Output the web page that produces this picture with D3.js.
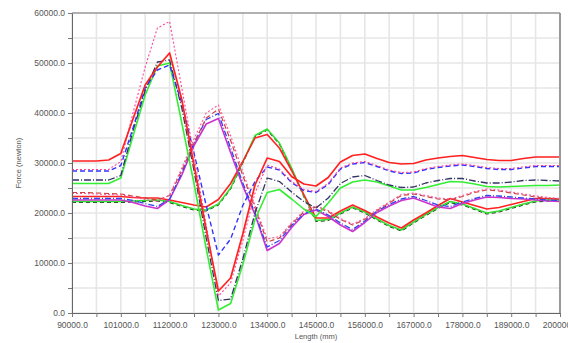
<!DOCTYPE html>
<html><head><meta charset="utf-8">
<script src="https://cdn.jsdelivr.net/npm/d3@7"></script>
<style>
body{margin:0;background:#fff}
svg{display:block}
text{font-family:"Liberation Sans",Arial,sans-serif}
</style>
</head><body>
<svg id="chart" width="568" height="343"></svg>
<script>
// ---- data ----
const lengthMm = [90000,92750,95500,98250,101000,103750,106500,109250,112000,114750,117500,120250,123000,125750,128500,131250,134000,136750,139500,142250,145000,147750,150500,153250,156000,158750,161500,164250,167000,169750,172500,175250,178000,180750,183500,186250,189000,191750,194500,197250,200000];

const xTickValues = [90000,101000,112000,123000,134000,145000,156000,167000,178000,189000,200000];
const xTickLabels = ["90000.0","101000.0","112000.0","123000.0","134000.0","145000.0","156000.0","167000.0","178000.0","189000.0","200000.0"];
const yTickValues = [0,10000,20000,30000,40000,50000,60000];
const yTickLabels = ["0.0","10000.0","20000.0","30000.0","40000.0","50000.0","60000.0"];

// group peaking at 112000
const redA   = [30400,30400,30400,30600,31900,38800,45600,49200,52000,42700,29600,16700,4400,7000,15800,25600,31000,30300,27300,25800,25400,27100,30200,31500,31800,30900,30100,29800,29900,30600,31000,31300,31500,31100,30700,30500,30500,30900,31200,31200,31200];
const pinkA  = [28700,28700,28700,28700,30300,40000,49200,57000,58300,45000,31500,17500,3400,6000,14500,24000,29600,28800,26300,24700,24300,25900,29000,30000,30300,29500,28600,28100,28200,28900,29300,29600,29800,29500,29100,28900,28900,29200,29500,29500,29500];
const blueA  = [28400,28400,28400,28400,29500,37000,45000,48600,49600,42000,32000,21500,11600,14800,21500,26300,29200,28600,26100,24500,24100,25700,28800,29800,30100,29300,28400,27900,28000,28700,29100,29400,29600,29300,28900,28700,28700,29000,29300,29300,29300];
const navyA  = [26600,26600,26600,26600,27500,36500,44500,50200,50600,41000,28500,15000,2500,2800,10800,20000,27000,26300,24200,22300,21000,23000,25900,27200,27500,26500,25600,25100,25200,26000,26500,26900,26900,26400,26000,26000,26200,26500,26600,26500,26400];
const greenA = [25900,25900,25900,25900,27000,35400,43600,49400,50000,38000,25900,12900,600,1900,9700,18700,24100,24700,22800,20800,19300,22000,25000,26200,26600,26200,25400,24600,24600,25100,25700,26300,26200,25800,25300,25200,25300,25400,25500,25500,25600];

// group peaking at 123000
const pinkB    = [23900,23900,23800,23700,23600,23200,22700,22300,23600,29000,34800,40000,41600,35500,28200,21500,14800,15300,18000,20400,21400,20500,18900,17800,18900,20700,22200,23700,24000,23500,23000,22800,23500,24300,24800,24600,24200,23800,23400,23100,22900];
const redDashB = [24100,24100,24000,23900,23800,23400,23000,22600,23500,28500,34000,39000,40800,34500,27500,21000,14200,15000,17800,20200,21200,20300,18700,17600,18700,20500,22000,23500,23800,23300,22800,22600,23300,24100,24600,24400,24000,23600,23200,22900,22700];
const blueB    = [22900,22900,22900,22900,22900,22500,21900,21300,22800,28000,34000,38700,39900,33000,26000,20000,13200,14500,17500,19800,20800,19600,18000,16700,18400,20400,21700,22800,23300,22500,21600,21300,22200,22900,23500,23400,23200,23000,22800,22600,22500];
const magentaB = [22600,22600,22600,22600,22600,22100,21400,20900,22700,27600,33500,37800,38900,32100,25400,19700,12500,13900,17100,19700,20600,19300,17600,16300,18100,20100,21400,22500,23000,22100,21200,20900,21900,22600,23200,23100,22900,22800,22600,22400,22300];

// group peaking at 134000
const redC   = [23300,23300,23300,23300,23300,23100,23000,23000,22600,22100,21600,21200,22700,25900,30300,35000,35700,33000,28500,23700,19000,19000,20400,21600,20500,19200,18000,17000,18600,20000,21500,22900,22200,21500,20800,21100,21700,22300,22900,22900,22800];
const greenC = [22300,22300,22300,22300,22300,22400,22500,22600,22300,21500,20800,20600,21800,25000,30200,35500,36800,34000,29000,23500,18500,18700,20000,21200,20200,18800,17500,16600,18200,19700,21100,22300,21800,20900,20000,20400,21100,21800,22400,22600,22600];
const darkC  = [22100,22100,22100,22100,22100,22200,22300,22400,22100,21300,20600,20400,21600,24800,30000,35300,36600,33800,28800,23300,18300,18500,19800,21000,20000,18600,17300,16400,18000,19500,20900,22100,21600,20700,19800,20200,20900,21600,22200,22400,22400];

// ---- drawing ----
const svg = d3.select("#chart");
const X0 = 72, X1 = 560, Y0 = 313, Y1 = 13;
const x = d3.scaleLinear().domain([90000, 200000]).range([X0, X1]);
const y = d3.scaleLinear().domain([0, 60000]).range([Y0, Y1]);

const xMinor = d3.range(90000, 200001, 5500);
const yMinor = d3.range(0, 60001, 5000);

// grid
const grid = svg.append("g");
grid.selectAll("line.vx").data(xMinor).join("line")
  .attr("x1", d => x(d)).attr("x2", d => x(d)).attr("y1", Y1).attr("y2", Y0)
  .attr("stroke", "#e6e6e6").attr("stroke-width", 1.6);
grid.selectAll("line.hy").data(yMinor).join("line")
  .attr("x1", X0).attr("x2", X1).attr("y1", d => y(d)).attr("y2", d => y(d))
  .attr("stroke", "#e6e6e6").attr("stroke-width", 1.4);

const series = [
  {v: darkC,    c: "#1f3d1f", w: 1.2, d: "4,3"},
  {v: greenC,   c: "#33dd33", w: 1.5, d: null},
  {v: redC,     c: "#ff2222", w: 1.6, d: null},
  {v: magentaB, c: "#cc33cc", w: 1.6, d: null},
  {v: blueB,    c: "#3344ee", w: 1.3, d: "6,2,1,2"},
  {v: redDashB, c: "#cc4444", w: 1.2, d: "5,3"},
  {v: pinkB,    c: "#ff5599", w: 1.1, d: "2,2"},
  {v: greenA,   c: "#33ee33", w: 1.6, d: null},
  {v: navyA,    c: "#333366", w: 1.3, d: "7,2,1,2"},
  {v: blueA,    c: "#3333ff", w: 1.4, d: "5,3"},
  {v: pinkA,    c: "#ff4499", w: 1.1, d: "2,2"},
  {v: redA,     c: "#ff2020", w: 1.7, d: null}
];

const line = d3.line().x((d, i) => x(lengthMm[i])).y(d => y(d));
const gl = svg.append("g");
series.forEach(s => {
  gl.append("path").attr("d", line(s.v)).attr("fill", "none")
    .attr("stroke", s.c).attr("stroke-width", s.w)
    .attr("stroke-dasharray", s.d).attr("stroke-linejoin", "round");
});

// frame
svg.append("line").attr("x1", X0).attr("x2", X1).attr("y1", Y1).attr("y2", Y1)
  .attr("stroke", "#777").attr("stroke-width", 1);
svg.append("line").attr("x1", X1).attr("x2", X1).attr("y1", Y1).attr("y2", Y0)
  .attr("stroke", "#999").attr("stroke-width", 2);

// axes
const xLabel = d => { const k = xTickValues.indexOf(d); return k >= 0 ? xTickLabels[k] : ""; };
const yLabel = d => { const k = yTickValues.indexOf(d); return k >= 0 ? yTickLabels[k] : ""; };

const ax = svg.append("g").attr("transform", `translate(0,${Y0})`)
  .call(d3.axisBottom(x).tickValues(xMinor).tickFormat(xLabel).tickSize(4).tickSizeOuter(0));
const ay = svg.append("g").attr("transform", `translate(${X0},0)`)
  .call(d3.axisLeft(y).tickValues(yMinor).tickFormat(yLabel).tickSize(4).tickSizeOuter(0));
[ax, ay].forEach(g => {
  g.select(".domain").attr("stroke", "#666");
  g.selectAll(".tick line").attr("stroke", "#777");
  g.selectAll(".tick text").attr("fill", "#555").attr("font-size", 8.5)
    .attr("font-family", "'Liberation Sans', Arial, sans-serif");
});
ax.selectAll(".tick text").attr("dy", "0.9em");

svg.append("text").attr("x", 316).attr("y", 339).attr("text-anchor", "middle")
  .attr("font-size", 7.5).attr("fill", "#555").text("Length (mm)");
svg.append("text").attr("transform", "translate(21,163) rotate(-90)").attr("text-anchor", "middle")
  .attr("font-size", 7.5).attr("fill", "#555").text("Force (newton)");
</script>
</body></html>
